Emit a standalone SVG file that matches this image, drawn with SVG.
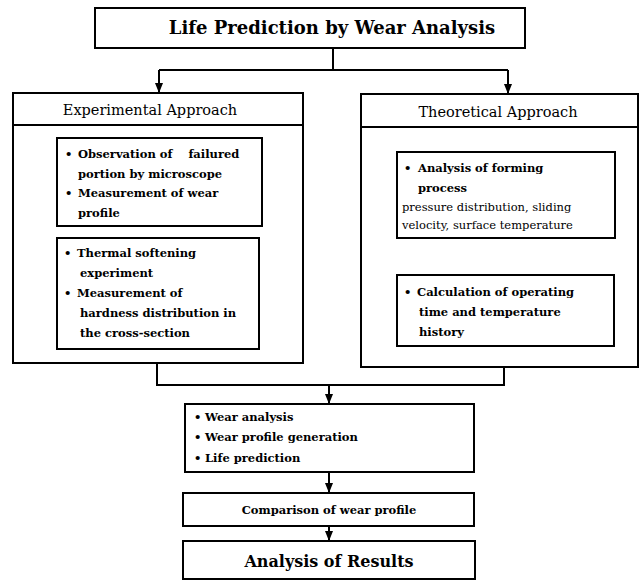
<svg xmlns="http://www.w3.org/2000/svg" width="640" height="580" viewBox="0 0 640 580">
<defs>
<marker id="ah" markerWidth="10" markerHeight="8" refX="10" refY="4" orient="auto" markerUnits="userSpaceOnUse" viewBox="0 0 10 8">
<path d="M0,0 L10,4 L0,8 Z" fill="#000"/>
</marker>
<style>
.box{fill:#fff;stroke:#000;stroke-width:2}
.ln{fill:none;stroke:#000;stroke-width:2}
.t{font-family:"DejaVu Serif","Liberation Serif",serif;fill:#000}
.b{font-weight:bold;font-size:11.5px}
.n{font-size:11.5px}
.h{font-size:14.5px}
</style>
</defs>
<rect width="640" height="580" fill="#fff"/>

<g id="connectors">
<path class="ln" d="M333,48 V70"/>
<path class="ln" d="M159,70 H508"/>
<path class="ln" d="M159,70 V93" marker-end="url(#ah)"/>
<path class="ln" d="M508,70 V94" marker-end="url(#ah)"/>
<path class="ln" d="M157,363 V385 H504 V367"/>
<path class="ln" d="M329,385 V404" marker-end="url(#ah)"/>
<path class="ln" d="M329,472 V493" marker-end="url(#ah)"/>
<path class="ln" d="M329,526 V541" marker-end="url(#ah)"/>
</g>

<g id="title">
<rect class="box" x="95" y="8" width="430" height="40"/>
<text class="t" x="332" y="34" text-anchor="middle" font-weight="bold" font-size="18">Life Prediction by Wear Analysis</text>
</g>

<g id="experimental">
<rect class="box" x="13" y="93" width="290" height="270"/>
<path class="ln" d="M13,125 H303"/>
<text class="t h" x="150" y="115" text-anchor="middle">Experimental Approach</text>
</g>

<g id="exp-box1">
<rect class="box" x="57" y="138" width="205" height="88"/>
<text class="t b" style="white-space:pre"><tspan x="65" y="158">•</tspan><tspan x="78" y="158">Observation of    failured</tspan><tspan x="78" y="178">portion by microscope</tspan><tspan x="65" y="197">•</tspan><tspan x="78" y="197">Measurement of wear</tspan><tspan x="78" y="217">profile</tspan></text>
</g>

<g id="exp-box2">
<rect class="box" x="57" y="238" width="202" height="111"/>
<text class="t b"><tspan x="64" y="257">•</tspan><tspan x="77" y="257">Thermal softening</tspan><tspan x="80" y="277">experiment</tspan><tspan x="64" y="297">•</tspan><tspan x="77" y="297">Measurement of</tspan><tspan x="80" y="317">hardness distribution in</tspan><tspan x="80" y="337">the cross-section</tspan></text>
</g>

<g id="theoretical">
<rect class="box" x="361" y="94" width="277" height="273"/>
<path class="ln" d="M361,127 H638"/>
<text class="t h" x="498" y="117" text-anchor="middle">Theoretical Approach</text>
</g>

<g id="theo-box1">
<rect class="box" x="397" y="152" width="218" height="86"/>
<text class="t b"><tspan x="404" y="172">•</tspan><tspan x="418" y="172">Analysis of forming</tspan><tspan x="418" y="192">process</tspan></text>
<text class="t n"><tspan x="402" y="211">pressure distribution, sliding</tspan><tspan x="402" y="229">velocity, surface temperature</tspan></text>
</g>

<g id="theo-box2">
<rect class="box" x="397" y="275" width="217" height="71"/>
<text class="t b"><tspan x="404" y="296">•</tspan><tspan x="417" y="296">Calculation of operating</tspan><tspan x="419" y="316">time and temperature</tspan><tspan x="419" y="336">history</tspan></text>
</g>

<g id="wear">
<rect class="box" x="185" y="404" width="289" height="68"/>
<text class="t b"><tspan x="194" y="421">•</tspan><tspan x="205" y="421">Wear analysis</tspan><tspan x="194" y="441">•</tspan><tspan x="205" y="441">Wear profile generation</tspan><tspan x="194" y="462">•</tspan><tspan x="205" y="462">Life prediction</tspan></text>
</g>

<g id="comparison">
<rect class="box" x="183" y="493" width="291" height="33"/>
<text class="t b" x="329" y="514" text-anchor="middle" font-size="11">Comparison of wear profile</text>
</g>

<g id="results">
<rect class="box" x="183" y="541" width="292" height="38"/>
<text class="t" x="329" y="567" text-anchor="middle" font-size="16" font-weight="bold">Analysis of Results</text>
</g>
</svg>
